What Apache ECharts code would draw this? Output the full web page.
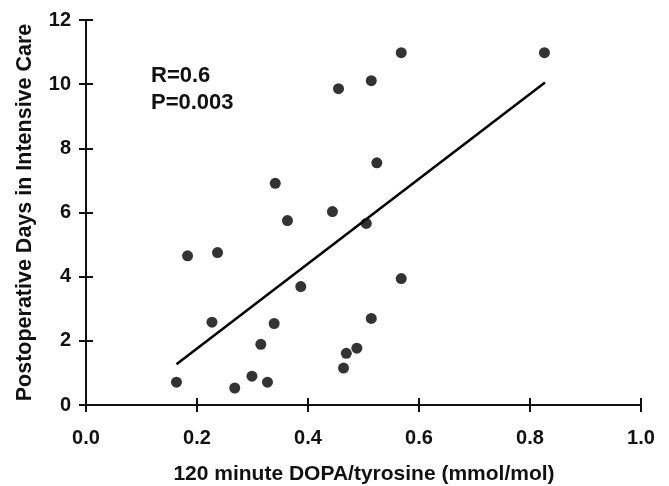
<!DOCTYPE html>
<html>
<head>
<meta charset="utf-8">
<script src="https://cdn.jsdelivr.net/npm/echarts@6/dist/echarts.min.js"></script>
<style>html,body{margin:0;padding:0;background:#fff}#c{width:669px;height:486px}</style>
</head>
<body>
<div id="c"></div>
<script>
var xTicks = [0.0, 0.2, 0.4, 0.6, 0.8, 1.0];
var yTicks = [0, 2, 4, 6, 8, 10, 12];
var ratioValues = [0.163, 0.183, 0.237, 0.227, 0.268, 0.299, 0.327, 0.315, 0.339, 0.363, 0.341, 0.387, 0.444, 0.505, 0.464, 0.469, 0.488, 0.514, 0.568, 0.455, 0.514, 0.568, 0.826, 0.524];
var icuDays = [0.71, 4.65, 4.75, 2.58, 0.53, 0.90, 0.71, 1.89, 2.54, 5.75, 6.91, 3.69, 6.03, 5.66, 1.15, 1.61, 1.77, 2.70, 3.94, 9.86, 10.11, 10.98, 10.98, 7.55];
var fitX = [0.163, 0.827];
var fitY = [1.27, 10.05];
var statsText = ['R=0.6', 'P=0.003'];
var xTitle = '120 minute DOPA/tyrosine (mmol/mol)';
var yTitle = 'Postoperative Days in Intensive Care';

var FONT = '"Liberation Sans", Arial, sans-serif';
var points = ratioValues.map(function (x, i) { return [x, icuDays[i]]; });
var fit = fitX.map(function (x, i) { return [x, fitY[i]]; });

var axisLineStyle = { color: '#111', width: 2 };
var chart = echarts.init(document.getElementById('c'), null, { renderer: 'canvas' });
chart.setOption({
  backgroundColor: '#fff',
  animation: false,
  grid: { left: 86, right: 28, top: 20, bottom: 81, containLabel: false },
  xAxis: [{
    type: 'value', min: 0, max: 1, interval: 0.2,
    axisLine: { show: true, onZero: false, lineStyle: axisLineStyle },
    axisTick: { show: true, inside: false, length: 7, lineStyle: axisLineStyle },
    splitLine: { show: false },
    axisLabel: { margin: 23, fontFamily: FONT, fontWeight: 'bold', fontSize: 20, color: '#111',
      formatter: function (v) { return v.toFixed(1); } },
  }, {
    type: 'value', min: 0, max: 1, interval: 0.2, position: 'bottom',
    axisLine: { show: false },
    axisTick: { show: true, inside: true, length: 7, lineStyle: axisLineStyle },
    splitLine: { show: false }, axisLabel: { show: false }
  }],
  yAxis: [{
    type: 'value', min: 0, max: 12, interval: 2,
    name: yTitle, nameLocation: 'middle', nameGap: 50,
    nameTextStyle: { fontFamily: FONT, fontWeight: 'bold', fontSize: 21.5, color: '#111' },
    axisLine: { show: true, onZero: false, lineStyle: axisLineStyle },
    axisTick: { show: true, inside: false, length: 7, lineStyle: axisLineStyle },
    splitLine: { show: false },
    axisLabel: { margin: 15, fontFamily: FONT, fontWeight: 'bold', fontSize: 20, color: '#111' }
  }, {
    type: 'value', min: 0, max: 12, interval: 2, position: 'left',
    axisLine: { show: false },
    axisTick: { show: true, inside: true, length: 7, lineStyle: axisLineStyle },
    splitLine: { show: false }, axisLabel: { show: false }
  }],
  graphic: [{
    type: 'text', x: 151, y: 62,
    style: { text: statsText.join('\n'), fontFamily: FONT, fontWeight: 'bold', fontSize: 22, lineHeight: 27, fill: '#111' }
  }, {
    type: 'text', x: 364, y: 474,
    style: { text: xTitle, fontFamily: FONT, fontWeight: 'bold', fontSize: 21, fill: '#111', align: 'center', verticalAlign: 'middle' }
  }],
  series: [{
    type: 'scatter', xAxisIndex: 0, yAxisIndex: 0,
    data: points, symbol: 'circle', symbolSize: 11,
    itemStyle: { color: '#000' }
  }, {
    type: 'line', xAxisIndex: 0, yAxisIndex: 0,
    data: fit, symbol: 'none',
    lineStyle: { color: '#000', width: 2.5 }
  }]
});
</script>
</body>
</html>
